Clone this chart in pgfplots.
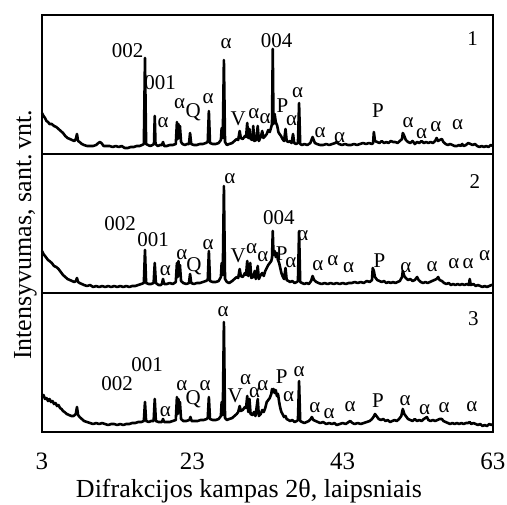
\documentclass[border=0pt]{standalone}
\usepackage{fontspec}
\setmainfont{Liberation Serif}
\usepackage{pgfplots}
\pgfplotsset{compat=1.18}
\tikzset{lab/.style={font=\fontsize{10.5}{12}\selectfont, inner sep=0pt},
  xrd/.style={black, line width=1.3pt, line join=round, mark=none}}
\begin{document}
\begin{tikzpicture}
\useasboundingbox (-21pt,7.5pt) rectangle (232.5pt,-244.5pt);
\pgfplotsset{panel/.style={scale only axis, width=225.5pt, height=69.5pt,
  xmin=3, xmax=63, ymin=0, ymax=139, ytick=\empty, xtick=\empty,
  axis line style={line width=1.1pt}, clip=false}}
% ---------------- panel 1
\begin{axis}[panel, name=p1, at={(0,0)}, anchor=north west]
\addplot[xrd] coordinates {(3.0,41)(3.2,38)(3.4,36)(3.6,33)(3.8,32)(4.0,30)(4.3,30)(4.6,28)(4.9,27)(5.2,25)(5.5,23)(5.8,21)(6.1,18)(6.4,16)(6.7,15)(7.0,14)(7.3,13)(7.5,15)(7.65,20)(7.8,13)(8.0,12)(8.3,10)(8.6,9)(9.0,8)(9.4,8)(9.8,8)(10.2,9)(10.5,11)(10.7,12)(10.9,11)(11.2,8)(11.6,8)(12.0,8)(12.4,7)(12.8,8)(13.2,7)(13.6,8)(14.0,6)(14.4,6)(14.8,7)(15.2,7)(15.6,8)(16.0,8)(16.3,9)(16.55,10)(16.7,96)(16.85,10)(17.1,9)(17.4,8)(17.7,9)(17.9,10)(18.0,38)(18.1,10)(18.4,8)(18.7,9)(18.95,9)(19.1,12)(19.25,8)(19.6,8)(20.0,9)(20.4,9)(20.8,10)(20.95,32)(21.05,15)(21.15,30)(21.25,16)(21.35,28)(21.5,12)(21.7,10)(22.0,9)(22.3,10)(22.55,10)(22.7,21)(22.85,10)(23.2,9)(23.6,9)(24.0,10)(24.4,10)(24.8,11)(25.05,12)(25.2,43)(25.35,11)(25.7,10)(26.1,10)(26.5,11)(26.8,14)(26.9,26)(27.05,16)(27.2,94)(27.35,12)(27.6,9)(27.9,10)(28.3,11)(28.6,13)(28.9,15)(29.1,14)(29.3,23)(29.45,16)(29.7,15)(30.0,18)(30.15,17)(30.3,31)(30.45,16)(30.6,25)(30.75,15)(31.0,14)(31.1,28)(31.25,13)(31.5,14)(31.7,28)(31.85,13)(32.1,17)(32.3,23)(32.45,16)(32.7,18)(32.9,20)(33.1,24)(33.3,22)(33.5,27)(33.6,30)(33.7,105)(33.8,30)(33.95,40)(34.1,32)(34.3,28)(34.45,22)(34.6,20)(34.8,18)(35.0,15)(35.2,13)(35.4,25)(35.55,13)(35.8,12)(36.0,13)(36.2,11)(36.4,20)(36.55,11)(36.8,10)(37.05,11)(37.2,51)(37.35,10)(37.6,9)(37.9,10)(38.3,9)(38.7,11)(39.0,17)(39.3,11)(39.6,10)(40.0,9)(40.4,9)(40.8,10)(41.2,9)(41.6,10)(42.0,11)(42.2,12)(42.5,10)(42.9,9)(43.3,10)(43.7,9)(44.1,9)(44.5,10)(44.9,9)(45.3,10)(45.7,11)(46.1,10)(46.5,11)(46.9,10)(47.05,11)(47.15,22)(47.3,13)(47.6,12)(47.9,11)(48.2,13)(48.5,11)(48.8,12)(49.1,11)(49.4,13)(49.7,12)(50.0,12)(50.3,11)(50.6,13)(50.9,15)(51.0,21)(51.2,18)(51.4,14)(51.7,12)(52.0,11)(52.3,13)(52.6,10)(52.9,12)(53.2,11)(53.5,13)(53.8,11)(54.1,12)(54.4,11)(54.7,12)(55.0,11)(55.3,13)(55.5,16)(55.7,13)(55.9,14)(56.2,15)(56.4,12)(56.7,10)(57.0,9)(57.3,10)(57.6,9)(57.9,8)(58.2,8)(58.5,9)(58.7,8)(58.9,10)(59.1,8)(59.4,9)(59.7,11)(60.0,10)(60.3,9)(60.6,10)(60.9,8)(61.2,7)(61.5,8)(61.8,7)(62.1,8)(62.4,7)(62.7,9)(63.0,8)};
\node[lab] at (axis cs:14.4,103) {002};
\node[lab] at (axis cs:18.7,71) {001};
\node[lab] at (axis cs:19.1,31) {α};
\node[lab] at (axis cs:21.3,50) {α};
\node[lab] at (axis cs:23.1,42) {Q};
\node[lab] at (axis cs:25.1,55) {α};
\node[lab] at (axis cs:27.5,110) {α};
\node[lab] at (axis cs:29.1,35) {V};
\node[lab] at (axis cs:31.2,40) {α};
\node[lab] at (axis cs:32.7,35) {α};
\node[lab] at (axis cs:34.2,113) {004};
\node[lab] at (axis cs:35.0,48) {P};
\node[lab] at (axis cs:36.2,33) {α};
\node[lab] at (axis cs:37.0,61) {α};
\node[lab] at (axis cs:40.0,21) {α};
\node[lab] at (axis cs:42.6,16) {α};
\node[lab] at (axis cs:47.7,43) {P};
\node[lab] at (axis cs:51.7,31) {α};
\node[lab] at (axis cs:53.5,20) {α};
\node[lab] at (axis cs:55.4,27) {α};
\node[lab] at (axis cs:58.3,29) {α};
\node[lab] at (axis cs:60.3,115) {1};
\end{axis}
% ---------------- panel 2
\begin{axis}[panel, name=p2, at={(p1.south west)}, anchor=north west]
\addplot[xrd] coordinates {(3.0,42)(3.2,39)(3.4,37)(3.6,35)(3.8,33)(4.0,32)(4.3,30)(4.6,27)(4.9,26)(5.2,24)(5.5,21)(5.8,18)(6.1,16)(6.4,14)(6.7,13)(7.0,12)(7.3,11)(7.5,12)(7.65,15)(7.8,11)(8.0,10)(8.3,9)(8.6,8)(9.0,7)(9.4,8)(9.8,6)(10.2,7)(10.6,6)(11.0,7)(11.4,6)(11.8,7)(12.2,6)(12.6,7)(13.0,6)(13.4,7)(13.8,6)(14.2,7)(14.6,6)(15.0,7)(15.4,7)(15.8,8)(16.2,9)(16.55,10)(16.7,43)(16.85,10)(17.2,9)(17.5,9)(17.85,10)(18.0,30)(18.15,10)(18.5,8)(18.8,8)(18.95,9)(19.1,14)(19.25,9)(19.6,9)(20.0,10)(20.4,9)(20.8,11)(20.95,30)(21.05,16)(21.15,32)(21.25,18)(21.35,28)(21.5,12)(21.8,10)(22.2,9)(22.55,10)(22.7,19)(22.85,10)(23.2,9)(23.6,10)(24.0,10)(24.4,11)(24.8,12)(25.05,13)(25.2,42)(25.35,12)(25.7,11)(26.1,11)(26.5,12)(26.8,16)(26.9,30)(27.05,18)(27.2,107)(27.35,14)(27.6,11)(27.9,10)(28.3,12)(28.6,14)(28.9,16)(29.1,15)(29.3,24)(29.45,17)(29.7,16)(30.0,20)(30.15,18)(30.3,32)(30.45,17)(30.7,30)(30.85,15)(31.1,16)(31.3,22)(31.45,14)(31.7,27)(31.85,14)(32.1,18)(32.3,20)(32.5,17)(32.7,22)(32.9,25)(33.1,28)(33.3,30)(33.5,32)(33.6,35)(33.7,62)(33.8,38)(33.95,42)(34.1,36)(34.25,40)(34.4,33)(34.55,30)(34.7,25)(34.85,20)(35.0,17)(35.2,14)(35.4,25)(35.55,13)(35.8,12)(36.0,11)(36.3,12)(36.6,10)(36.9,11)(37.05,12)(37.2,62)(37.35,11)(37.6,10)(37.9,9)(38.2,10)(38.5,9)(38.8,12)(39.0,17)(39.2,13)(39.5,11)(39.8,10)(40.2,9)(40.6,10)(41.0,9)(41.4,10)(41.8,9)(42.2,10)(42.6,9)(43.0,10)(43.4,9)(43.8,10)(44.2,10)(44.6,11)(45.0,10)(45.4,11)(45.8,10)(46.2,12)(46.6,11)(46.9,13)(47.0,25)(47.15,22)(47.3,16)(47.6,13)(47.9,12)(48.2,11)(48.5,12)(48.8,10)(49.1,11)(49.4,10)(49.7,11)(50.0,10)(50.3,11)(50.6,12)(50.9,16)(51.0,22)(51.2,17)(51.4,15)(51.7,13)(52.0,14)(52.3,12)(52.6,13)(52.9,16)(53.1,13)(53.4,11)(53.7,10)(54.0,11)(54.3,10)(54.6,11)(54.9,12)(55.2,13)(55.5,14)(55.7,16)(55.9,13)(56.2,12)(56.5,10)(56.8,9)(57.1,10)(57.4,8)(57.7,9)(58.0,8)(58.3,9)(58.6,8)(58.9,9)(59.2,8)(59.5,9)(59.8,8)(59.9,14)(60.05,8)(60.4,9)(60.7,7)(61.0,8)(61.3,7)(61.6,6)(61.9,7)(62.2,6)(62.5,7)(62.8,8)(63.0,8)};
\node[lab] at (axis cs:13.4,69) {002};
\node[lab] at (axis cs:17.8,53) {001};
\node[lab] at (axis cs:19.4,22) {α};
\node[lab] at (axis cs:21.6,38) {α};
\node[lab] at (axis cs:23.2,27) {Q};
\node[lab] at (axis cs:25.1,48) {α};
\node[lab] at (axis cs:28.0,114) {α};
\node[lab] at (axis cs:29.1,37) {V};
\node[lab] at (axis cs:30.9,44) {α};
\node[lab] at (axis cs:32.4,36) {α};
\node[lab] at (axis cs:34.5,75) {004};
\node[lab] at (axis cs:34.9,39) {P};
\node[lab] at (axis cs:36.1,30) {α};
\node[lab] at (axis cs:37.7,57) {α};
\node[lab] at (axis cs:39.7,27) {α};
\node[lab] at (axis cs:41.7,32) {α};
\node[lab] at (axis cs:43.8,25) {α};
\node[lab] at (axis cs:47.9,32) {P};
\node[lab] at (axis cs:51.4,25) {α};
\node[lab] at (axis cs:54.9,26) {α};
\node[lab] at (axis cs:57.8,29) {α};
\node[lab] at (axis cs:59.7,29) {α};
\node[lab] at (axis cs:61.9,37) {α};
\node[lab] at (axis cs:60.6,111) {2};
\end{axis}
% ---------------- panel 3
\begin{axis}[panel, name=p3, at={(p2.south west)}, anchor=north west,
  xtick={3,23,43,63}, xticklabels={3,23,43,63}, major tick length=0pt,
  xticklabel style={font=\fontsize{12.5}{14}\selectfont, anchor=base, yshift=-18.5pt}]
\addplot[xrd] coordinates {(3.0,35)(3.2,37)(3.4,33)(3.6,34)(3.8,31)(4.0,33)(4.2,30)(4.4,31)(4.6,28)(4.8,29)(5.0,26)(5.2,27)(5.4,24)(5.6,23)(5.8,21)(6.0,20)(6.3,18)(6.6,17)(6.9,16)(7.2,16)(7.5,18)(7.65,25)(7.8,17)(8.0,15)(8.3,13)(8.6,11)(9.0,10)(9.4,9)(9.8,8)(10.2,9)(10.6,8)(11.0,9)(11.4,8)(11.8,7)(12.2,8)(12.6,8)(13.0,7)(13.4,8)(13.8,7)(14.2,8)(14.6,8)(15.0,9)(15.4,9)(15.8,10)(16.2,10)(16.55,11)(16.7,30)(16.85,11)(17.2,10)(17.5,11)(17.85,11)(18.0,33)(18.15,11)(18.5,10)(18.8,10)(18.95,10)(19.1,13)(19.25,10)(19.6,10)(20.0,10)(20.4,11)(20.8,12)(20.95,35)(21.05,18)(21.15,33)(21.25,20)(21.35,30)(21.5,13)(21.8,11)(22.2,11)(22.6,12)(22.75,15)(22.9,11)(23.3,11)(23.7,11)(24.1,12)(24.5,12)(24.9,13)(25.05,14)(25.2,35)(25.35,13)(25.7,12)(26.1,12)(26.5,13)(26.8,16)(26.9,30)(27.05,17)(27.2,110)(27.35,14)(27.6,12)(27.9,13)(28.3,14)(28.6,16)(28.9,18)(29.1,20)(29.3,26)(29.45,21)(29.7,22)(30.0,25)(30.15,24)(30.3,36)(30.45,20)(30.6,33)(30.75,18)(31.0,17)(31.2,20)(31.4,16)(31.7,33)(31.85,16)(32.1,18)(32.3,22)(32.5,20)(32.7,24)(32.9,30)(33.1,32)(33.3,34)(33.5,38)(33.6,43)(33.7,40)(33.8,43)(33.95,39)(34.1,42)(34.25,36)(34.4,38)(34.55,30)(34.7,24)(34.85,20)(35.0,18)(35.2,15)(35.4,16)(35.55,13)(35.8,12)(36.0,11)(36.3,12)(36.6,10)(36.9,11)(37.05,12)(37.2,51)(37.35,11)(37.6,10)(37.9,9)(38.2,10)(38.5,11)(38.75,13)(38.9,15)(39.1,12)(39.4,11)(39.7,10)(40.0,9)(40.4,10)(40.8,8)(41.2,9)(41.6,8)(41.9,9)(42.2,7)(42.6,8)(43.0,9)(43.4,8)(43.8,10)(44.0,11)(44.3,9)(44.6,8)(45.0,9)(45.4,8)(45.8,9)(46.2,10)(46.6,11)(46.9,13)(47.1,15)(47.3,18)(47.5,16)(47.8,13)(48.1,12)(48.4,13)(48.7,11)(49.0,12)(49.3,10)(49.6,11)(49.9,12)(50.2,11)(50.5,13)(50.8,16)(51.0,23)(51.2,18)(51.4,16)(51.7,13)(52.0,12)(52.3,11)(52.6,13)(52.9,11)(53.2,12)(53.5,11)(53.8,13)(54.0,14)(54.2,15)(54.4,12)(54.7,11)(55.0,12)(55.3,11)(55.6,12)(55.9,13)(56.2,13)(56.4,11)(56.7,10)(57.0,9)(57.3,8)(57.6,9)(57.9,8)(58.2,9)(58.5,8)(58.8,9)(59.1,8)(59.4,9)(59.7,9)(59.9,10)(60.1,8)(60.4,9)(60.7,8)(61.0,7)(61.3,8)(61.6,6)(61.9,7)(62.2,6)(62.5,8)(62.8,7)(63.0,8)};
\node[lab] at (axis cs:13.0,48) {002};
\node[lab] at (axis cs:17.0,67) {001};
\node[lab] at (axis cs:19.4,20) {α};
\node[lab] at (axis cs:21.6,46) {α};
\node[lab] at (axis cs:23.1,33) {Q};
\node[lab] at (axis cs:24.7,46) {α};
\node[lab] at (axis cs:27.1,120) {α};
\node[lab] at (axis cs:28.7,36) {V};
\node[lab] at (axis cs:30.1,52) {α};
\node[lab] at (axis cs:31.3,39) {α};
\node[lab] at (axis cs:32.4,46) {α};
\node[lab] at (axis cs:34.9,55) {P};
\node[lab] at (axis cs:37.2,60) {α};
\node[lab] at (axis cs:35.8,35) {α};
\node[lab] at (axis cs:39.3,24) {α};
\node[lab] at (axis cs:41.2,18) {α};
\node[lab] at (axis cs:44.0,25) {α};
\node[lab] at (axis cs:47.7,31) {P};
\node[lab] at (axis cs:51.3,31) {α};
\node[lab] at (axis cs:53.9,22) {α};
\node[lab] at (axis cs:56.5,24) {α};
\node[lab] at (axis cs:60.2,25) {α};
\node[lab] at (axis cs:60.4,113) {3};
\end{axis}
\node[rotate=90, anchor=base, font=\fontsize{13}{15}\selectfont, inner sep=0pt] at (-5.5pt,-110pt) {Intensyvumas, sant.\,vnt.};
\node[anchor=base, font=\fontsize{13}{15}\selectfont, inner sep=0pt] at (103.5pt,-241pt) {Difrakcijos kampas 2θ, laipsniais};
\end{tikzpicture}
\end{document}
